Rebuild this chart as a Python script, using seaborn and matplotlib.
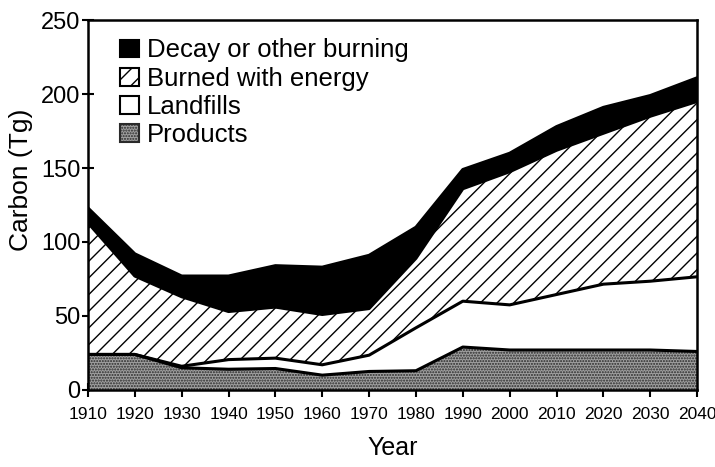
import numpy as np
import pandas as pd
import matplotlib
matplotlib.use("Agg")
import matplotlib.pyplot as plt
from matplotlib.patches import Patch
import seaborn as sns

years = [1910, 1920, 1930, 1940, 1950, 1960, 1970, 1980, 1990, 2000, 2010, 2020, 2030, 2040]
products = [24, 24, 15, 14, 14.5, 10, 12.5, 13, 29, 27, 27, 27, 27, 26]
landfills = [0, 0, 1, 6.5, 7, 7, 11, 29, 31, 30.5, 37.5, 44.5, 46.5, 50.5]
burned = [89, 53, 47, 32.5, 34.5, 34, 31.5, 47, 76, 90, 97.5, 102, 111.5, 118.5]
decay = [10, 15, 14, 24, 28, 32, 36, 21, 13, 12.5, 16, 17.5, 14, 16]
labels = ["Products", "Landfills", "Burned with energy", "Decay or other burning"]
y_ticks = [0, 50, 100, 150, 200, 250]

sns.set_style("ticks")
plt.rcParams['font.family'] = ['Liberation Sans', 'DejaVu Sans']
plt.rcParams['hatch.linewidth'] = 1.0
for key in ['text.color', 'axes.labelcolor', 'xtick.color', 'ytick.color']:
    plt.rcParams[key] = 'black'

fig = plt.figure(figsize=(7.15, 4.67), dpi=100)
ax = fig.add_axes([0.123, 0.165, 0.852, 0.792])

x = np.array(years)
layers = [np.array(products), np.array(landfills), np.array(burned), np.array(decay)]
cum = np.cumsum(layers, axis=0)
bottoms = np.vstack([np.zeros(len(x)), cum[:-1]])

styles = [
    dict(facecolor="#a0a0a0", edgecolor="#2a2a2a", hatch="......"),
    dict(facecolor="white", edgecolor="white", hatch=None),
    dict(facecolor="white", edgecolor="black", hatch="//"),
    dict(facecolor="black", edgecolor="black", hatch=None),
]
for b, t, st in zip(bottoms, cum, styles):
    ax.fill_between(x, b, t, linewidth=0, **st)

df = pd.DataFrame({"Year": np.tile(x, 4), "top": cum.ravel(),
                   "layer": np.repeat(labels, len(x))})
sns.lineplot(data=df, x="Year", y="top", units="layer", estimator=None,
             color="black", linewidth=2.2, ax=ax, legend=False)

ax.set_xlim(1910, 2040)
ax.set_ylim(0, 250)
ax.set_xticks(years)
ax.set_xticklabels([str(y) for y in years], fontsize=12.5)
ax.set_yticks(y_ticks)
ax.tick_params(axis='y', labelsize=17, direction='inout', length=9, width=1.5, pad=1,
               colors='black')
ax.tick_params(axis='x', direction='inout', length=10, width=1.5, pad=7, colors='black')
for s in ax.spines.values():
    s.set_visible(True)
    s.set_linewidth(1.8)
    s.set_color("black")
ax.set_xlabel("Year", fontsize=18, labelpad=10, color='black')
ax.set_ylabel("Carbon (Tg)", fontsize=19, color='black')
ax.yaxis.set_label_coords(-0.09, 0.568)

handles = [
    Patch(facecolor="black", edgecolor="black", label="Decay or other burning"),
    Patch(facecolor="white", edgecolor="black", hatch="//", label="Burned with energy"),
    Patch(facecolor="white", edgecolor="black", label="Landfills"),
    Patch(facecolor="#a0a0a0", edgecolor="#2a2a2a", hatch="......", label="Products"),
]
leg = ax.legend(handles=handles, loc="upper left", frameon=False, fontsize=18.5,
                handlelength=0.75, handleheight=0.7, handletextpad=0.3,
                labelspacing=0.16, borderaxespad=0.0, bbox_to_anchor=(0.035, 0.978))
for p in leg.get_patches():
    p.set_linewidth(1.5)
for t in leg.get_texts():
    t.set_color('black')

fig.savefig("out.png", dpi=100)
